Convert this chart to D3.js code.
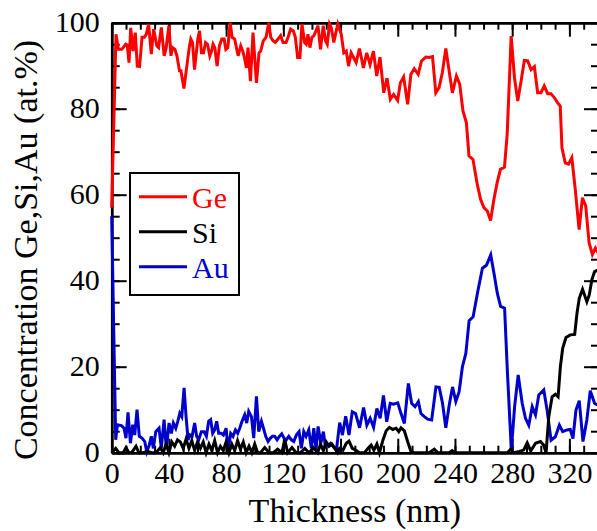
<!DOCTYPE html>
<html>
<head>
<meta charset="utf-8">
<script src="https://cdn.jsdelivr.net/npm/d3@7"></script>
<style>
body { margin: 0; background: #fff; }
svg { display: block; }
text { font-family: "Liberation Serif", "Times New Roman", serif; }
</style>
</head>
<body>
<div id="chart"></div>
<script>
// thickness (nm), concentration (at.%)
const ge = [[0,57],[3.0,97.3],[4.7,93.8],[7.0,93.8],[8.1,94.2],[9.8,95.0],[10.9,94.8],[12.1,90.7],[13.3,98.8],[14.9,93.4],
  [16.5,97.7],[17.9,89.9],[19.5,89.8],[21.2,96.6],[22.8,96.6],[24.2,97.3],[25.8,99.7],[27.7,92.7],[29.3,98.5],[31.6,94.6],
  [32.8,94.2],[34.7,98.9],[36.7,92.3],[38.1,94.2],[40.0,99.3],[41.4,92.3],[42.6,94.2],[44.2,93.8],[45.6,92.3],[47.4,88.8],
  [48.4,88.8],[50.5,84.7],[52.1,88.8],[54.2,94.2],[55.3,96.2],[56.5,95.4],[57.9,89.1],[60.2,96.2],[61.4,98.1],[62.8,93.0],
  [64.2,93.0],[65.6,95.4],[67.0,95.0],[68.6,92.3],[69.8,93.4],[70.9,95.0],[72.1,94.2],[73.7,89.9],[75.3,94.6],[77.0,96.2],
  [78.6,96.2],[79.8,93.8],[81.2,94.2],[82.8,100],[84.2,96.6],[86.0,96.2],[87.2,94.2],[88.4,92.3],[90.2,94.6],[91.6,93.4],
  [92.8,91.9],[94.2,89.5],[95.3,94.2],[97.0,86.4],[98.8,97.7],[101.2,86.0],[103.0,93.0],[104.2,93.4],[106.0,95.8],[107.9,96.6],
  [109.8,100],[111.2,96.6],[112.8,95.8],[114.4,95.4],[116.3,96.2],[118.1,97.0],[119.8,95.4],[121.9,95.4],[123.3,96.6],[125.1,98.5],
  [127.0,98.1],[128.4,96.6],[130.0,91.9],[131.6,91.9],[133.0,99.7],[134.9,95.4],[136.0,95.0],[137.2,97.3],[138.6,94.2],[140.0,96.6],
  [141.4,97.0],[142.8,98.1],[144.2,99.3],[146.0,93.8],[147.9,99.3],[149.5,95.8],[150.7,95.0],[152.3,99.7],[153.5,98.9],[155.3,95.4],
  [156.7,97.7],[158.1,99.7],[160.5,97.3],[162.3,93.0],[164.0,93.4],[165.6,89.9],[167.4,93.0],[169.1,91.9],[170.9,90.7],[173.2,94.0],
  [176.0,89.5],[178.3,93.0],[180.6,90.3],[183.0,93.4],[185.3,87.6],[187.6,92.0],[190.2,83.7],[192.5,87.1],[194.8,82.2],[197.1,83.3],
  [199.9,81.9],[201.8,86.0],[204.1,87.4],[206.9,81.0],[209.2,88.0],[211.5,89.3],[214.3,88.0],[216.6,91.1],[219.6,92.0],[222.0,91.9],
  [224.3,92.1],[226.6,83.7],[228.9,84.9],[231.2,88.4],[233.6,94.0],[235.9,88.8],[238.2,83.7],[241.0,87.6],[243.3,85.7],[245.6,79.5],
  [248.0,76.7],[249.8,69.0],[252.6,68.2],[255.6,62.4],[257.9,58.9],[260.2,57.0],[262.6,56.2],[264.9,54.0],[267.2,58.9],[269.5,62.8],
  [271.8,65.9],[274.6,66.4],[276.5,74.0],[279.3,96.9],[281.6,87.2],[283.9,81.8],[286.2,86.4],[288.5,91.2],[290.9,91.1],[293.2,89.1],
  [295.5,89.8],[297.8,83.7],[300.1,83.7],[302.4,85.3],[304.8,83.5],[307.1,83.5],[309.4,82.6],[311.7,81.4],[313.6,80.6],[314.8,70.9],
  [317.1,67.4],[319.4,67.1],[321.7,68.6],[324.0,61.6],[326.8,51.9],[329.1,59.3],[331.4,57.4],[333.8,48.8],[336.1,46.1],[338.2,47.6],
  [340,46.5]];

const si = [[0,0],[2.8,1.0],[5,0],[8,0],[10,1.2],[12,0],[14,0],[17,1.5],[19,0],[22,0],[25,0.3],[28,0],[31,0],[34,1.2],[36,0],
  [38,2.0],[40,0],[42,2.5],[44,1.5],[46,3.0],[48,2.5],[50,1.0],[52,3.2],[54,1.0],[56,2.8],[58,0.5],[60,2.5],[62,1.0],[64,2.5],
  [66,0],[68,2.0],[70,0.5],[72,2.8],[74,0],[76,1.5],[78,0.5],[80,2.5],[82,0],[84,2.0],[86,0.5],[88,2.8],[90,0.8],[92,2.5],
  [94,0],[96,1.5],[98,0],[100,2.0],[102,0],[104,0],[107,1.2],[110,0],[113,0],[116,0.8],[119,0],[121,3.0],[123,0],[126,1.2],
  [129,0],[132,0],[135,1.0],[138,0],[141,1.2],[144,0],[146,2.0],[148,0.5],[150,2.5],[152,1.5],[154,2.0],[156,1.0],[158,0],
  [159.4,1.0],[161.7,0.6],[164.0,2.2],[165.9,2.7],[168.2,1.0],[171.0,0.5],[173.3,0],[176.8,0],[179.1,1.0],[181.4,1.8],[183.3,0.6],
  [185.4,2.0],[187.2,0],[189.6,2.9],[191.9,5.1],[194.2,5.9],[196.5,5.4],[198.8,5.7],[200.7,4.9],[202.3,5.8],[204.6,5.1],[206.9,2.6],
  [209.3,0.2],[211.6,0],[218,0],[222,0],[225.5,0.8],[228,0],[236,0],[238,0.5],[240,0],[276.6,0],[278.9,0.8],[281,0],[285,0.3],
  [288,0.6],[290.5,2.3],[293,0.4],[296.3,2.2],[299.8,2.6],[302,1.8],[303.7,0],[305.6,8.4],[307.9,13.0],[310.2,13.6],[312.1,13.0],
  [313.7,20.0],[315.3,24.3],[317.6,26.8],[320.6,27.4],[323.7,27.5],[325.3,32.4],[326.9,35.9],[329.2,38.0],[332.2,35.1],[333.9,36.7],
  [335.7,40.2],[337.6,42.1],[340,42.5]];

const au = [[0,55],[2.8,3.0],[4.0,6.5],[6.8,6.3],[8.6,5.7],[10.0,3.4],[11.4,9.4],[13.1,2.2],[14.7,6.5],[16.1,4.1],[17.7,10.0],
  [19.3,3.8],[21.2,3.4],[23.1,2.6],[24.5,0.2],[26.3,1.8],[27.7,3.8],[29.1,1.0],[30.8,4.9],[33.1,5.7],[34.7,1.0],[36.6,7.7],
  [38.2,1.0],[40.1,6.9],[41.7,4.5],[43.1,6.9],[44.8,5.7],[46.2,7.3],[47.6,9.2],[49.0,8.4],[50.6,15.1],[52.0,8.4],[53.4,3.0],
  [54.8,4.1],[56.2,3.8],[58.0,6.9],[59.4,3.8],[60.8,3.0],[62.7,4.9],[64.6,4.9],[66.2,3.8],[67.8,7.3],[69.2,7.7],[70.6,4.5],
  [72.0,5.3],[73.4,7.3],[74.8,4.5],[76.7,4.5],[78.1,4.1],[80.0,5.7],[81.4,0.6],[83.2,4.5],[84.8,3.8],[86.5,5.3],[88.1,4.5],
  [89.5,5.7],[91.1,7.3],[93.0,8.8],[94.4,6.9],[95.8,9.6],[97.7,8.4],[99.3,3.4],[101.2,13.1],[102.8,4.9],[104.7,7.3],[106.1,5.7],
  [107.7,3.8],[109.3,2.6],[111.0,3.4],[112.4,3.8],[114.0,3.8],[115.6,3.0],[117.2,3.8],[118.9,4.4],[120.5,3.4],[122.1,3.0],
  [123.8,3.8],[125.6,3.0],[127.3,2.6],[129.1,4.1],[131.0,4.9],[132.6,1.0],[134.3,4.9],[135.9,3.8],[137.8,5.3],[139.6,1.0],
  [141.3,5.7],[142.9,0.6],[144.3,6.1],[146.2,2.2],[148.0,4.9],[149.4,1.4],[151.3,1.8],[153.1,2.2],[155.0,1.4],[157.1,0.6],
  [159.4,7.0],[161.3,4.1],[163.6,8.5],[165.9,4.1],[168.2,9.5],[170.5,9.1],[173.3,5.8],[176.1,10.5],[178.4,6.4],[180.7,8.0],
  [183.1,5.9],[185.4,10.3],[187.7,8.0],[190.0,13.3],[192.3,7.2],[194.7,11.5],[197.0,11.3],[200.0,11.6],[202.3,9.1],[204.6,6.8],
  [207.4,16.1],[209.7,11.5],[212.1,10.7],[214.4,11.9],[216.2,9.1],[218.6,8.4],[220.9,7.8],[223.7,7.6],[226.7,15.3],[229.0,15.2],
  [231.3,11.5],[233.6,5.8],[236.0,11.1],[238.3,15.3],[240.6,11.9],[242.9,14.2],[245.2,20.0],[247.6,23.1],[249.9,30.7],[252.7,31.6],
  [255.7,37.1],[259.2,42.9],[262.0,43.6],[265.0,46.0],[267.3,41.7],[269.6,37.1],[271.9,34.0],[274.7,33.6],[276.6,19.2],[279.4,0.6],
  [281.7,10.7],[284.2,18.1],[287.0,11.5],[289.3,8.0],[291.6,6.4],[294.0,10.7],[296.3,8.8],[298.6,13.4],[302.1,14.6],[304.4,9.9],
  [307.2,2.9],[310.2,3.7],[313.0,6.4],[315.3,4.9],[318.3,5.3],[320.6,5.4],[322.5,3.3],[324.6,9.9],[326.9,12.1],[329.5,2.6],
  [332.2,7.6],[334.6,14.4],[337.6,11.5],[340,11.0]];

const xTicks = [0, 40, 80, 120, 160, 200, 240, 280, 320];
const yTicks = [0, 20, 40, 60, 80, 100];
const legendNames = ['Ge', 'Si', 'Au'];
const colors = ['#ff0000', '#000000', '#0000cc'];

const width = 597, height = 531;
const plotLeft = 111.7, plotRight = 598, plotTop = 22.7, plotBottom = 452.7;

const x = d3.scaleLinear().domain([0, 340]).range([plotLeft, plotRight]);
const y = d3.scaleLinear().domain([0, 100]).range([plotBottom, plotTop]);

const svg = d3.select('#chart').append('svg')
    .attr('width', width)
    .attr('height', height);

function styleAxis(g) {
    g.select('.domain').attr('stroke', '#000').attr('stroke-width', 2.5);
    g.selectAll('.tick line').attr('stroke', '#000').attr('stroke-width', 2);
    g.selectAll('.tick text')
        .attr('font-family', '"Liberation Serif", "Times New Roman", serif')
        .attr('font-size', 30)
        .attr('fill', '#000');
}

const minorX = d3.range(0, 341, 10);
const minorY = d3.range(0, 101, 5);

// bottom
svg.append('g').attr('transform', `translate(0,${plotBottom})`)
    .call(d3.axisBottom(x).tickValues(minorX).tickSize(-7).tickSizeOuter(0).tickFormat(''))
    .call(styleAxis);
const xAxisG = svg.append('g').attr('transform', `translate(0,${plotBottom})`)
    .call(d3.axisBottom(x).tickValues(xTicks).tickSize(-14).tickSizeOuter(0).tickPadding(9))
    .call(styleAxis);
// top
svg.append('g').attr('transform', `translate(0,${plotTop})`)
    .call(d3.axisTop(x).tickValues(minorX).tickSize(-7).tickSizeOuter(0).tickFormat(''))
    .call(styleAxis);
svg.append('g').attr('transform', `translate(0,${plotTop})`)
    .call(d3.axisTop(x).tickValues(xTicks).tickSize(-14).tickSizeOuter(0).tickFormat(''))
    .call(styleAxis);
// left
svg.append('g').attr('transform', `translate(${plotLeft},0)`)
    .call(d3.axisLeft(y).tickValues(minorY).tickSize(-8).tickSizeOuter(0).tickFormat(''))
    .call(styleAxis);
const yAxisG = svg.append('g').attr('transform', `translate(${plotLeft},0)`)
    .call(d3.axisLeft(y).tickValues(yTicks).tickSize(-15).tickSizeOuter(0).tickPadding(12))
    .call(styleAxis);
// right
svg.append('g').attr('transform', `translate(${plotRight},0)`)
    .call(d3.axisRight(y).tickValues(minorY).tickSize(-7).tickSizeOuter(0).tickFormat(''))
    .call(styleAxis);
svg.append('g').attr('transform', `translate(${plotRight},0)`)
    .call(d3.axisRight(y).tickValues(yTicks).tickSize(-14).tickSizeOuter(0).tickFormat(''))
    .call(styleAxis);

yAxisG.selectAll('.tick text').attr('dy', '0.3em');

const line = d3.line()
    .x(function(d) { return x(d[0]); })
    .y(function(d) { return y(d[1]); });

// drawing order: Au, Si, Ge
[[au, colors[2]], [si, colors[1]], [ge, colors[0]]].forEach(function(s) {
    svg.append('path')
        .datum(s[0])
        .attr('fill', 'none')
        .attr('stroke', s[1])
        .attr('stroke-width', 3)
        .attr('d', line);
});

// legend
const legend = svg.append('g');
legend.append('rect')
    .attr('x', 130).attr('y', 173)
    .attr('width', 109).attr('height', 122)
    .attr('fill', '#fff')
    .attr('stroke', '#000')
    .attr('stroke-width', 2);
legendNames.forEach(function(name, i) {
    const ly = 196.7 + i * 35;
    legend.append('line')
        .attr('x1', 139).attr('x2', 187)
        .attr('y1', ly).attr('y2', ly)
        .attr('stroke', colors[i])
        .attr('stroke-width', 3);
    legend.append('text')
        .attr('x', 192).attr('y', ly + 11.5)
        .attr('font-size', 30)
        .attr('fill', colors[i])
        .text(name);
});

// axis titles
svg.append('text')
    .attr('x', (plotLeft + plotRight) / 2)
    .attr('y', 522)
    .attr('text-anchor', 'middle')
    .attr('font-size', 34)
    .text('Thickness (nm)');

svg.append('text')
    .attr('transform', 'translate(37,250) rotate(-90)')
    .attr('text-anchor', 'middle')
    .attr('font-size', 34)
    .text('Concentration Ge,Si,Au (at.%)');
</script>
</body>
</html>
